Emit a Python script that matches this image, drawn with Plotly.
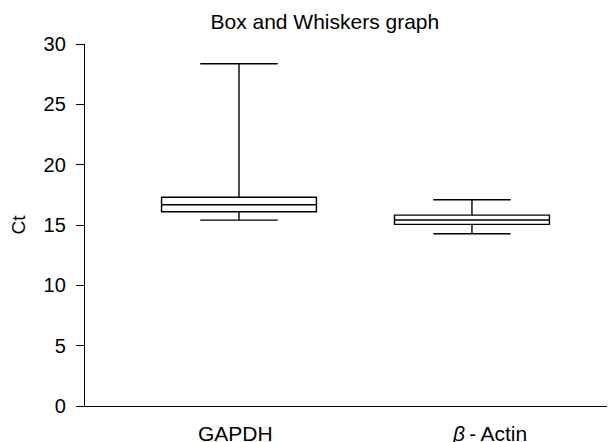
import plotly.graph_objects as go

categories = ["GAPDH", "β-Actin"]
lower = [15.4, 14.27]
q1 = [16.1, 15.05]
median = [16.68, 15.41]
q3 = [17.3, 15.82]
upper = [28.36, 17.09]
y_ticks = [0, 5, 10, 15, 20, 25, 30]

fig = go.Figure()
fig.add_trace(go.Box(
    x=categories, q1=q1, median=median, q3=q3,
    lowerfence=lower, upperfence=upper,
    fillcolor="white", line=dict(color="black", width=1.4),
    whiskerwidth=0.5, boxpoints=False, hoverinfo="skip",
))

font = "Liberation Sans, Arial, Helvetica, sans-serif"
fig.update_layout(
    width=607, height=434,
    margin=dict(l=77, r=0, t=36, b=36),
    paper_bgcolor="white", plot_bgcolor="white",
    showlegend=False, boxgap=0.335, boxgroupgap=0,
    font=dict(family=font, color="black", size=20),
    title=dict(text="Box and Whiskers graph", x=0.522, xanchor="center",
               y=0.968, yanchor="middle", font=dict(size=21, family=font)),
    xaxis=dict(range=[-0.661, 1.614], showline=True, linecolor="black", linewidth=1.4,
               showgrid=False, zeroline=False, ticks="", showticklabels=False,
               type="category"),
    yaxis=dict(range=[0, 30], tickvals=y_ticks, showline=True, linecolor="black",
               linewidth=1.4, showgrid=False, zeroline=False, ticks="outside",
               ticklen=8, tickwidth=1.3, tickcolor="black", ticklabelstandoff=6,
               title=dict(text="Ct", standoff=14, font=dict(size=19)),
               tickfont=dict(size=20)),
)

shifts = [-3.5, 18]
for c, s in zip(categories, shifts):
    label = c if c == "GAPDH" else "<i>β</i>\u2009-\u2009Actin"
    fig.add_annotation(x=c, xref="x", y=0, yref="paper", yshift=-27, xshift=s,
                       text=label, showarrow=False, yanchor="middle",
                       font=dict(size=21, family=font, color="black"))

fig.write_html("out.html")
